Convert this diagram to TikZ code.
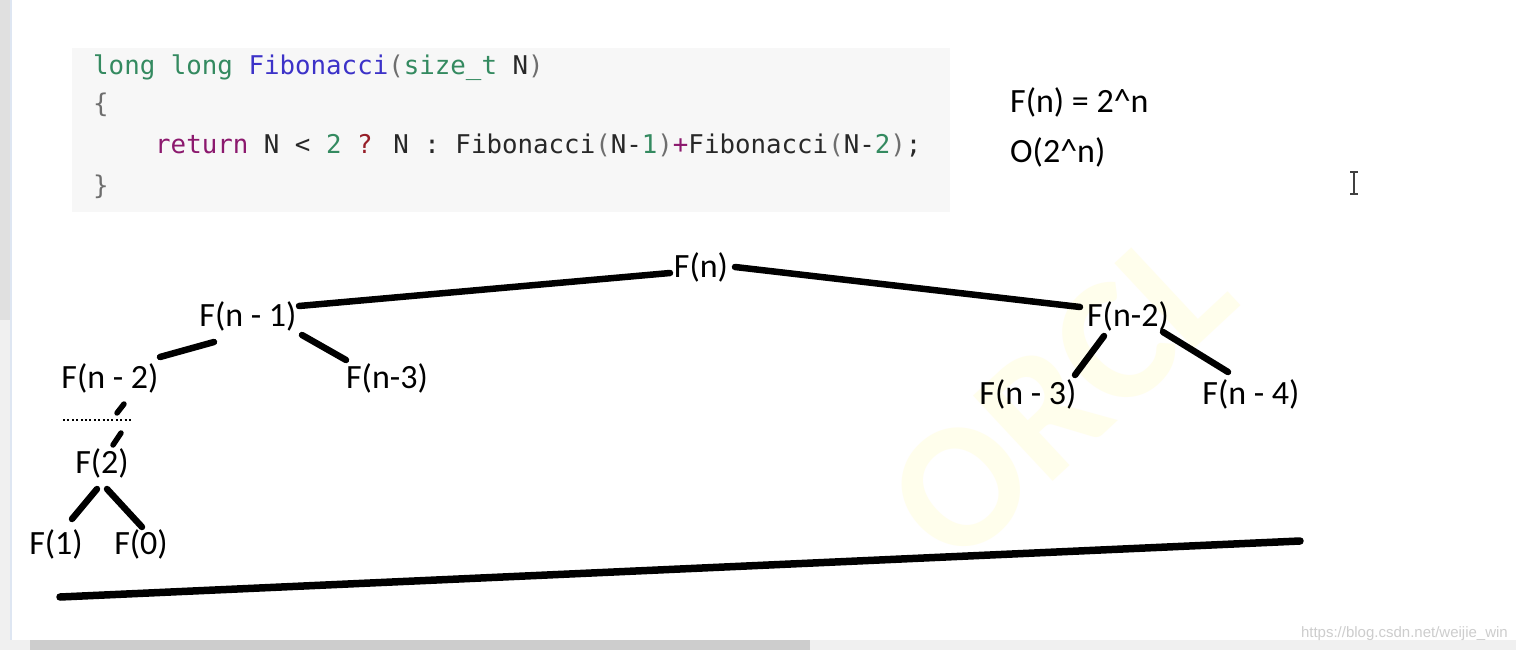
\documentclass[tikz,border=0pt]{standalone}
\usepackage{fontspec}
\setmainfont{Carlito}
\newfontfamily\codefont{DejaVu Sans Mono}
\newfontfamily\urlfont{Liberation Sans}
\usetikzlibrary{calc}
\definecolor{kwgreen}{RGB}{52,138,96}
\definecolor{fnblue}{RGB}{60,50,200}
\definecolor{retpurple}{RGB}{140,25,110}
\definecolor{qred}{RGB}{150,30,40}
\definecolor{codedark}{RGB}{40,40,40}
\definecolor{parengray}{RGB}{110,110,110}
\definecolor{codebg}{RGB}{247,247,247}
\definecolor{wmyellow}{RGB}{255,254,236}
\definecolor{stripgray}{RGB}{224,224,224}
\definecolor{stripblue}{RGB}{222,230,242}
\definecolor{barlight}{RGB}{240,240,240}
\definecolor{bardark}{RGB}{205,205,205}
\definecolor{urlgray}{RGB}{205,205,205}
\begin{document}
\begin{tikzpicture}[x=1pt,y=-1pt,
  lbl/.style={inner sep=0pt, font=\fontsize{34}{40}\selectfont},
  codeline/.style={inner sep=0pt, anchor=base west, text=codedark, font=\codefont\fontsize{25.8}{30}\selectfont},
  formula/.style={inner sep=0pt, anchor=base west, font=\fontsize{34}{40}\selectfont},
  edge/.style={line width=6.5pt, line cap=round}]
\useasboundingbox (0,0) rectangle (1516,650);
\fill[white] (0,0) rectangle (1516,650);
% window chrome
\fill[stripgray] (0,0) rectangle (10,320);
\fill[barlight] (0,320) rectangle (10,640);
\fill[stripblue] (10,0) rectangle (12,640);
\fill[barlight] (0,640) rectangle (1516,650);
\fill[bardark] (30,640) rectangle (810,650);
% watermark
\node[inner sep=0pt, rotate=43, text=wmyellow, font=\bfseries\fontsize{180}{180}\selectfont] (wm) at (1060,395) {ORCL};
% code box
\fill[codebg] (72,48) rectangle (950,212);
\node[codeline] (c1) at (93,75) {\textcolor{kwgreen}{long long} \textcolor{fnblue}{Fibonacci}\textcolor{parengray}{(}\textcolor{kwgreen}{size\_t} N\textcolor{parengray}{)}};
\node[codeline, text=parengray] (c2) at (93,113) {\{};
\node[codeline] (c3) at (155,154) {\textcolor{retpurple}{return} N < \textcolor{kwgreen}{2} \textcolor{qred}{?} N : Fibonacci\textcolor{parengray}{(}N-\textcolor{kwgreen}{1}\textcolor{parengray}{)}\textcolor{retpurple}{+}Fibonacci\textcolor{parengray}{(}N-\textcolor{kwgreen}{2}\textcolor{parengray}{)};};
\node[codeline, text=parengray] (c4) at (93,194) {\}};
% formulas
\node[formula] (f1) at (1010,113) {F(n) = 2\textasciicircum n};
\node[formula] (f2) at (1010,163) {O(2\textasciicircum n)};
% cursor
\draw[line width=1.6pt, black!75] (1354,172) -- (1354,194);
\draw[line width=1.2pt, black!75] (1350,172) -- (1358,172) (1350,194) -- (1358,194);
% tree nodes
\node[lbl] (fn)   at (701,267) {F(n)};
\node[lbl] (fn1)  at (248,316) {F(n - 1)};
\node[lbl] (fn2r) at (1128,316) {F(n-2)};
\node[lbl] (fn2l) at (110,378) {F(n - 2)};
\node[lbl] (fn3l) at (387,378) {F(n-3)};
\node[lbl] (fn3r) at (1028,394) {F(n - 3)};
\node[lbl] (fn4)  at (1251,394) {F(n - 4)};
\node[lbl] (ftwo) at (102,463) {F(2)};
\node[lbl] (fone) at (56,544) {F(1)};
\node[lbl] (fzero) at (141,544) {F(0)};
% edges
\draw[edge] ($(fn)+(-31,6)$) -- ($(fn1)+(51,-10)$);
\draw[edge] ($(fn)+(34,0)$) -- ($(fn2r)+(-48,-9)$);
\draw[edge] ($(fn1)+(-34,26)$) -- ($(fn2l)+(50,-21)$);
\draw[edge] ($(fn1)+(54,19)$) -- ($(fn3l)+(-41,-18)$);
\draw[edge, line width=5.5pt] ($(fn2l)+(14,26)$) -- ($(fn2l)+(7,35)$);
\draw[edge, line width=5.5pt] ($(ftwo)+(19,-30)$) -- ($(ftwo)+(11,-18)$);
\draw[line width=1.6pt, dash pattern=on 2pt off 2.4pt] ($(fn2l)+(-47,42)$) -- ($(fn2l)+(23,42)$);
\draw[edge] ($(ftwo)+(-5,26)$) -- ($(fone)+(16,-25)$);
\draw[edge] ($(ftwo)+(5,26)$) -- ($(fzero)+(1,-17)$);
\draw[edge] ($(fn2r)+(-24,20)$) -- ($(fn3r)+(47,-19)$);
\draw[edge] ($(fn2r)+(35,16)$) -- ($(fn4)+(-23,-22)$);
% bottom line
\coordinate (bl) at (60,597);
\coordinate (br) at (1300,541);
\draw[edge, line width=7.5pt] (bl) -- (br);
% url watermark
\node[inner sep=0pt, anchor=base east, text=urlgray, font=\urlfont\fontsize{15}{18}\selectfont] (url) at (1508,637) {https://blog.csdn.net/weijie\_win};
\end{tikzpicture}
\end{document}
